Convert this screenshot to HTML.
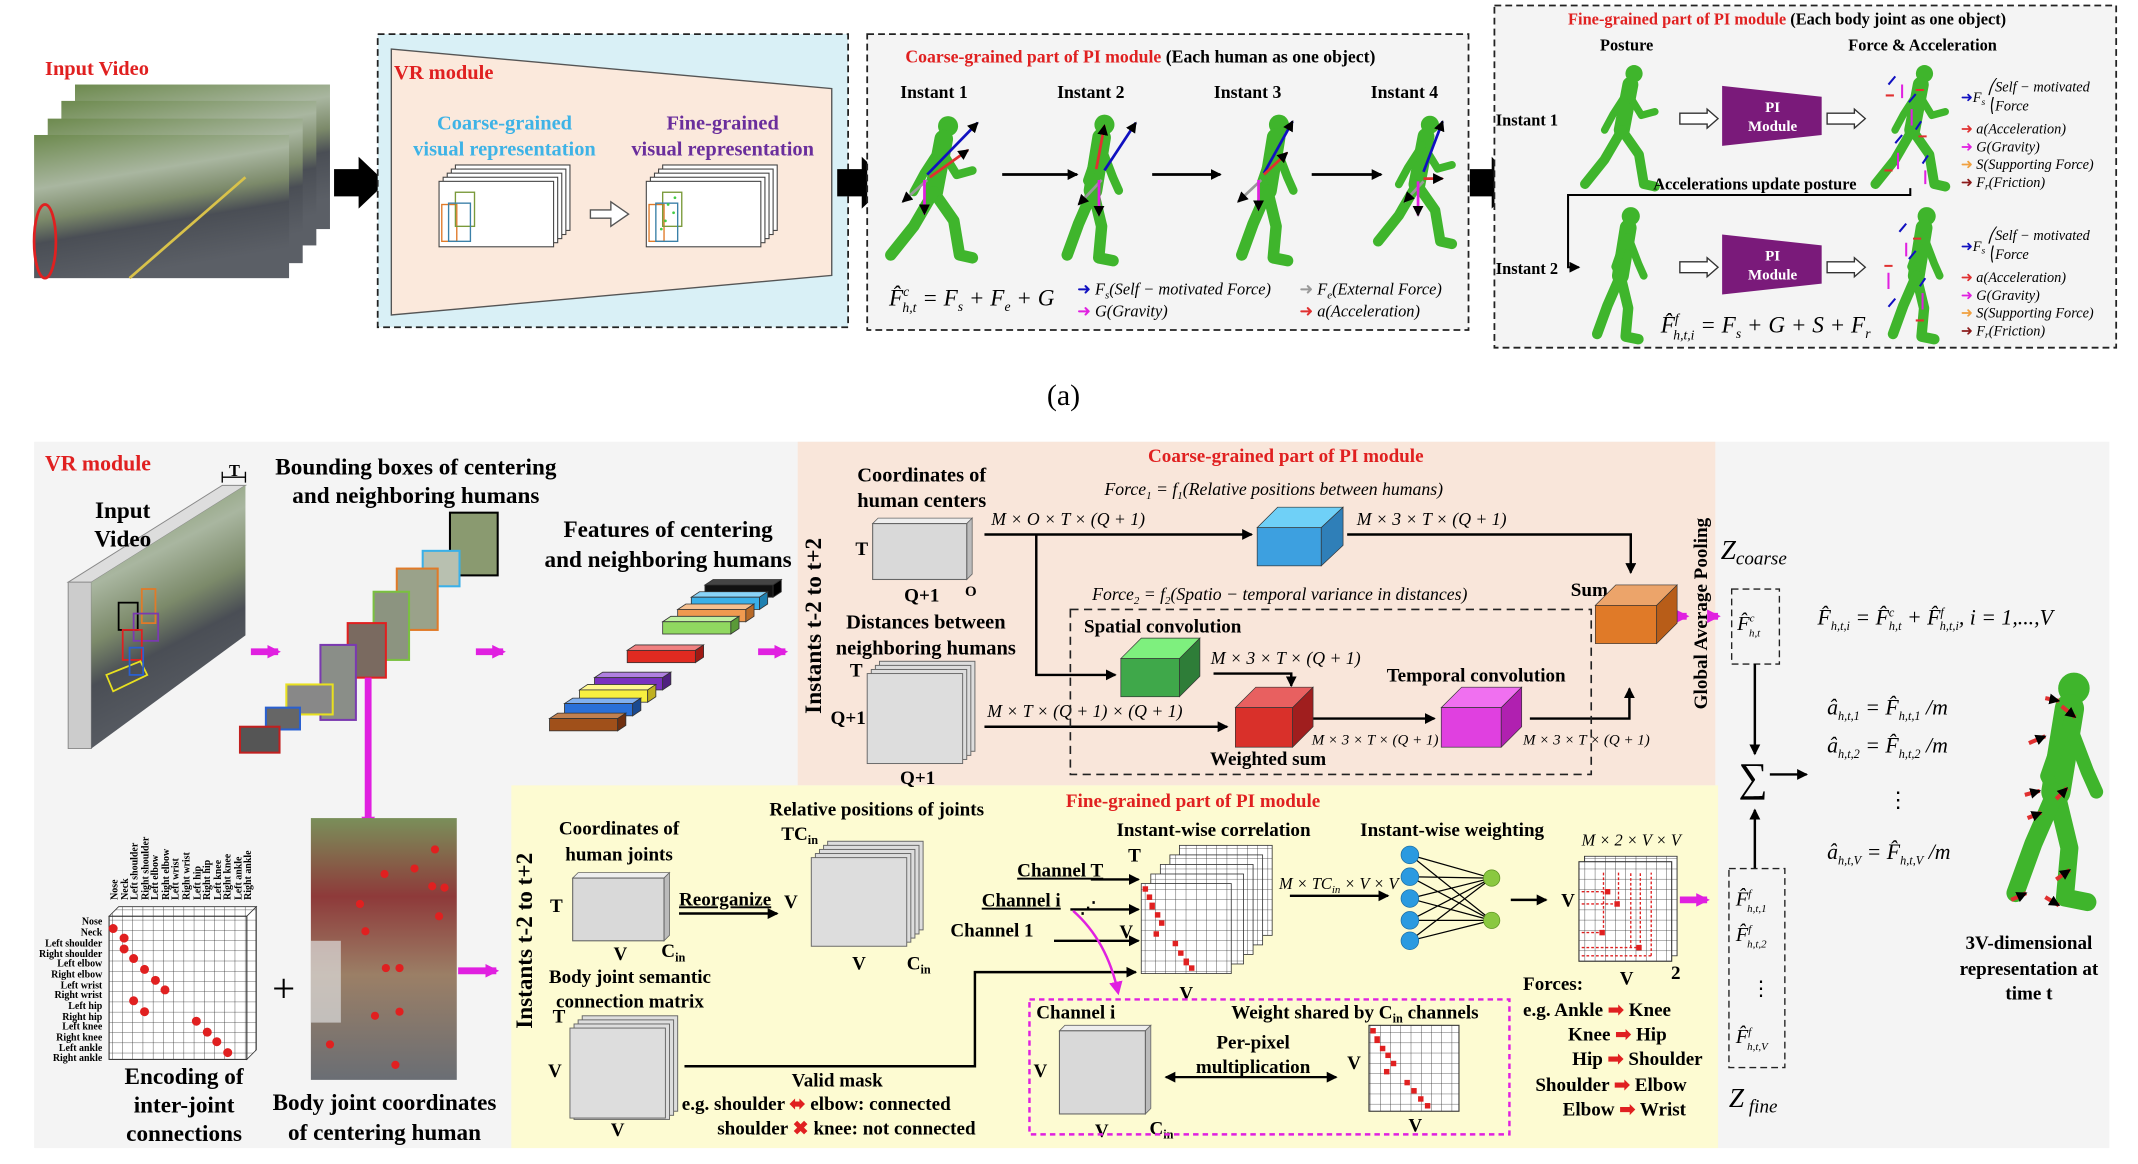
<!DOCTYPE html>
<html><head><meta charset="utf-8"><style>
html,body{margin:0;padding:0;background:#fff;}
svg{display:block;}
text{font-family:"Liberation Serif",serif;}
.b{font-weight:bold;}
.i{font-style:italic;}
</style></head><body>
<svg width="2138" height="1164" viewBox="0 0 1568 853.7" preserveAspectRatio="none" xmlns="http://www.w3.org/2000/svg">
<defs>
<pattern id="grid" width="7.5" height="7.5" patternUnits="userSpaceOnUse"><rect width="7.5" height="7.5" fill="#fff"/><path d="M7.5 0V7.5H0" fill="none" stroke="#333" stroke-width="0.6"/></pattern>
<linearGradient id="scene" x1="0" y1="0" x2="0.3" y2="1"><stop offset="0" stop-color="#6d8a4e"/><stop offset="0.35" stop-color="#a9b6a0"/><stop offset="0.55" stop-color="#7c8a6a"/><stop offset="0.7" stop-color="#4a4e55"/><stop offset="1" stop-color="#5b5f66"/></linearGradient>
<linearGradient id="photo" x1="0" y1="0" x2="0" y2="1"><stop offset="0" stop-color="#7a8f5a"/><stop offset="0.3" stop-color="#8e3a3a"/><stop offset="0.6" stop-color="#9b7f66"/><stop offset="1" stop-color="#6a6e74"/></linearGradient>
<marker id="ah" markerWidth="8" markerHeight="8" refX="7" refY="4" orient="auto" markerUnits="userSpaceOnUse"><path d="M0,0L8,4L0,8z" fill="#000"/></marker>
<marker id="ahs" markerWidth="8" markerHeight="8" refX="1" refY="4" orient="auto" markerUnits="userSpaceOnUse"><path d="M8,0L0,4L8,8z" fill="#000"/></marker>
<marker id="ahm" markerWidth="10" markerHeight="10" refX="8" refY="5" orient="auto" markerUnits="userSpaceOnUse"><path d="M0,0L10,5L0,10z" fill="#e020e0"/></marker>
<g id="run" fill="none" stroke="#3fb52c" stroke-linecap="round" stroke-linejoin="round">
<circle cx="46" cy="10" r="7" fill="#3fb52c" stroke="none"/>
<path d="M43,19L36,56" stroke-width="13"/>
<path d="M41,26L52,44L63,41" stroke-width="6"/>
<path d="M40,26L29,43L22,56" stroke-width="6"/>
<path d="M36,56L50,76L54,100L63,102" stroke-width="8"/>
<path d="M36,56L22,80L6,100" stroke-width="8"/>
</g>
<g id="stand" fill="none" stroke="#3fb52c" stroke-linecap="round" stroke-linejoin="round">
<circle cx="40" cy="9" r="7" fill="#3fb52c" stroke="none"/>
<path d="M38,18L32,55" stroke-width="13"/>
<path d="M36,25L28,48L34,60" stroke-width="6"/>
<path d="M38,25L46,46L50,55" stroke-width="6"/>
<path d="M32,55L38,80L36,102L46,104" stroke-width="8"/>
<path d="M32,55L22,78L14,100" stroke-width="8"/>
</g>
</defs>

<rect width="1568" height="854" fill="#fff"/>

<!-- ===== TOP (a) ===== -->
<text x="33" y="55" class="b" font-size="15" fill="#e02020">Input Video</text>
<rect x="55" y="62" width="187" height="106" fill="url(#scene)"/>
<rect x="45" y="74" width="187" height="106" fill="url(#scene)"/>
<rect x="35" y="87" width="187" height="106" fill="url(#scene)"/>
<rect x="25" y="99" width="187" height="105" fill="url(#scene)"/>
<path d="M95,204L180,130" stroke="#d9c24a" stroke-width="2"/>
<ellipse cx="33" cy="177" rx="8" ry="27" fill="none" stroke="#e02020" stroke-width="2"/>
<path d="M245,124H263V115L283,134L263,153V144H245Z" fill="#000"/>

<rect x="277" y="25" width="345" height="215" fill="#d9f0f6" stroke="#222" stroke-width="1.3" stroke-dasharray="5,3"/>
<polygon points="287,36 610,65 610,202 287,231" fill="#fbe9dc" stroke="#555" stroke-width="1"/>
<text x="289" y="58" class="b" font-size="15" fill="#e02020">VR module</text>
<text x="370" y="95" class="b" font-size="15" fill="#3eb3e6" text-anchor="middle">Coarse-grained</text>
<text x="370" y="114" class="b" font-size="15" fill="#3eb3e6" text-anchor="middle">visual representation</text>
<text x="530" y="95" class="b" font-size="15" fill="#6a2e9c" text-anchor="middle">Fine-grained</text>
<text x="530" y="114" class="b" font-size="15" fill="#6a2e9c" text-anchor="middle">visual representation</text>
<g fill="#fff" stroke="#444" stroke-width="0.8">
<rect x="334" y="121" width="84" height="48"/><rect x="331" y="124" width="84" height="48"/><rect x="328" y="127" width="84" height="48"/><rect x="325" y="130" width="84" height="48"/><rect x="322" y="133" width="84" height="48"/>
<rect x="486" y="121" width="84" height="48"/><rect x="483" y="124" width="84" height="48"/><rect x="480" y="127" width="84" height="48"/><rect x="477" y="130" width="84" height="48"/><rect x="474" y="133" width="84" height="48"/>
</g>
<rect x="324" y="150" width="11" height="27" fill="none" stroke="#e07a28"/>
<rect x="334" y="141" width="14" height="25" fill="none" stroke="#7a9a3a"/>
<rect x="329" y="149" width="16" height="28" fill="none" stroke="#3a80a8"/>
<rect x="476" y="150" width="11" height="27" fill="none" stroke="#e07a28"/>
<rect x="486" y="141" width="14" height="25" fill="none" stroke="#7a9a3a"/>
<rect x="481" y="149" width="16" height="28" fill="none" stroke="#3a80a8"/>
<g fill="#4c4"><circle cx="490" cy="150" r="1"/><circle cx="494" cy="156" r="1"/><circle cx="488" cy="162" r="1"/><circle cx="495" cy="145" r="1"/><circle cx="485" cy="168" r="1"/></g>
<path d="M433,154H448V148L461,157L448,166V160H433Z" fill="#fff" stroke="#555"/>
<path d="M614,124H632V115L652,134L632,153V144H614Z" fill="#000"/>

<rect x="636" y="25" width="441" height="217" fill="#f4f4f4" stroke="#222" stroke-width="1.3" stroke-dasharray="5,3"/>
<text x="664" y="46" class="b" font-size="13"><tspan fill="#e02020">Coarse-grained part of PI module</tspan><tspan fill="#000"> (Each human as one object)</tspan></text>
<g class="b" font-size="13" text-anchor="middle"><text x="685" y="72">Instant 1</text><text x="800" y="72">Instant 2</text><text x="915" y="72">Instant 3</text><text x="1030" y="72">Instant 4</text></g>
<use href="#run" transform="translate(647,82) scale(1.05)"/>
<use href="#stand" transform="translate(768,82) scale(1.05)"/>
<use href="#stand" transform="translate(896,82) scale(1.05)"/>
<use href="#run" transform="translate(1005,82) scale(0.95)"/>
<g stroke-width="2" marker-end="url(#ah)">
<line x1="680" y1="128" x2="717" y2="90" stroke="#1010c0"/><line x1="682" y1="130" x2="710" y2="110" stroke="#e03030"/><line x1="680" y1="132" x2="662" y2="148" stroke="#999"/><line x1="678" y1="132" x2="678" y2="157" stroke="#e020e0"/>
<line x1="810" y1="125" x2="833" y2="90" stroke="#1010c0"/><line x1="804" y1="124" x2="810" y2="92" stroke="#e03030"/><line x1="808" y1="132" x2="791" y2="150" stroke="#999"/><line x1="806" y1="132" x2="806" y2="158" stroke="#e020e0"/>
<line x1="927" y1="127" x2="948" y2="89" stroke="#1010c0"/><line x1="927" y1="128" x2="944" y2="112" stroke="#e03030"/><line x1="925" y1="132" x2="908" y2="148" stroke="#999"/><line x1="923" y1="132" x2="923" y2="154" stroke="#e020e0"/>
<line x1="1044" y1="126" x2="1058" y2="89" stroke="#1010c0"/><line x1="1044" y1="131" x2="1058" y2="131" stroke="#e03030"/><line x1="1044" y1="133" x2="1030" y2="148" stroke="#999"/><line x1="1040" y1="133" x2="1040" y2="158" stroke="#e020e0"/>
<line x1="735" y1="128" x2="790" y2="128" stroke="#000"/><line x1="845" y1="128" x2="895" y2="128" stroke="#000"/><line x1="962" y1="128" x2="1013" y2="128" stroke="#000"/>
</g>
<text x="652" y="224" class="i" font-size="17">F̂<tspan font-size="10" dy="-7">c</tspan><tspan font-size="10" dx="-5" dy="12">h,t</tspan><tspan dy="-5"> = F</tspan><tspan font-size="10" dy="4">s</tspan><tspan dy="-4"> + F</tspan><tspan font-size="10" dy="4">e</tspan><tspan dy="-4"> + G</tspan></text>
<g class="i" font-size="12">
<text x="790" y="216"><tspan fill="#1010c0" font-style="normal">➜</tspan> F<tspan font-size="8" dy="3">s</tspan><tspan dy="-3">(Self − motivated Force)</tspan></text>
<text x="790" y="232"><tspan fill="#e020e0" font-style="normal">➜</tspan> G(Gravity)</text>
<text x="953" y="216"><tspan fill="#999" font-style="normal">➜</tspan> F<tspan font-size="8" dy="3">e</tspan><tspan dy="-3">(External Force)</tspan></text>
<text x="953" y="232"><tspan fill="#e03030" font-style="normal">➜</tspan> a(Acceleration)</text>
</g>
<path d="M1078,124H1094V115L1112,134L1094,153V144H1078Z" fill="#000"/>

<rect x="1096" y="4" width="456" height="251" fill="#f4f4f4" stroke="#222" stroke-width="1.3" stroke-dasharray="5,3"/>
<text x="1150" y="18" class="b" font-size="12"><tspan fill="#e02020">Fine-grained part of PI module</tspan><tspan fill="#000"> (Each body joint as one object)</tspan></text>
<text x="1193" y="37" class="b" font-size="12" text-anchor="middle">Posture</text>
<text x="1410" y="37" class="b" font-size="12" text-anchor="middle">Force &amp; Acceleration</text>
<text x="1097" y="92" class="b" font-size="12">Instant 1</text>
<text x="1097" y="201" class="b" font-size="12">Instant 2</text>
<use href="#run" transform="translate(1157,45) scale(0.9)"/>
<use href="#stand" transform="translate(1158,150) scale(0.95)"/>
<use href="#run" transform="translate(1370,45) scale(0.9)"/>
<use href="#stand" transform="translate(1375,150) scale(0.95)"/>
<g fill="#fff" stroke="#333"><path d="M1232,83H1252V80L1260,87L1252,94V91H1232Z"/><path d="M1340,83H1360V80L1368,87L1360,94V91H1340Z"/><path d="M1232,192H1252V189L1260,196L1252,203V200H1232Z"/><path d="M1340,192H1360V189L1368,196L1360,203V200H1340Z"/></g>
<polygon points="1263,63 1336,71 1336,99 1263,107" fill="#7a1a7a"/>
<polygon points="1263,172 1336,180 1336,208 1263,216" fill="#7a1a7a"/>
<g fill="#fff" class="b" font-size="11" text-anchor="middle"><text x="1300" y="82">PI</text><text x="1300" y="96">Module</text><text x="1300" y="191">PI</text><text x="1300" y="205">Module</text></g>
<g stroke-width="1.5">
<path d="M1385,62l5,-6M1400,75l5,-6M1405,95l4,-6M1390,105l5,-6M1410,120l4,-6" stroke="#1010c0"/>
<path d="M1395,62v10M1402,80v12M1392,112v12M1412,125v10" stroke="#e020e0"/>
<path d="M1383,70h6M1405,66h6M1407,100h6M1382,125h6" stroke="#e03030"/>
<path d="M1393,170l5,-6M1400,190l5,-6M1408,210l4,-6M1385,225l5,-6" stroke="#1010c0"/>
<path d="M1398,178v10M1385,200v12M1410,215v12" stroke="#e020e0"/>
<path d="M1403,175h6M1382,195h6M1405,235h6" stroke="#e03030"/>
</g>
<g class="i" font-size="10.5">
<text x="1438" y="75"><tspan fill="#1010c0" font-style="normal">➜</tspan>F<tspan font-size="7" dy="2">s</tspan></text>
<text x="1458" y="67">⎛Self − motivated</text><text x="1458" y="81">⎝Force</text>
<text x="1438" y="98"><tspan fill="#e03030" font-style="normal">➜</tspan> a(Acceleration)</text>
<text x="1438" y="111"><tspan fill="#e020e0" font-style="normal">➜</tspan> G(Gravity)</text>
<text x="1438" y="124"><tspan fill="#f0a040" font-style="normal">➜</tspan> S(Supporting Force)</text>
<text x="1438" y="137"><tspan fill="#8b1a1a" font-style="normal">➜</tspan> F<tspan font-size="7" dy="2">r</tspan><tspan dy="-2">(Friction)</tspan></text>
<text x="1438" y="184"><tspan fill="#1010c0" font-style="normal">➜</tspan>F<tspan font-size="7" dy="2">s</tspan></text>
<text x="1458" y="176">⎛Self − motivated</text><text x="1458" y="190">⎝Force</text>
<text x="1438" y="207"><tspan fill="#e03030" font-style="normal">➜</tspan> a(Acceleration)</text>
<text x="1438" y="220"><tspan fill="#e020e0" font-style="normal">➜</tspan> G(Gravity)</text>
<text x="1438" y="233"><tspan fill="#f0a040" font-style="normal">➜</tspan> S(Supporting Force)</text>
<text x="1438" y="246"><tspan fill="#8b1a1a" font-style="normal">➜</tspan> F<tspan font-size="7" dy="2">r</tspan><tspan dy="-2">(Friction)</tspan></text>
</g>
<text x="1287" y="139" class="b" font-size="12" text-anchor="middle">Accelerations update posture</text>
<path d="M1401,138V143H1150V196H1158" fill="none" stroke="#000" stroke-width="1.5" marker-end="url(#ah)"/>
<text x="1218" y="244" class="i" font-size="17">F̂<tspan font-size="10" dy="-7">f</tspan><tspan font-size="10" dx="-4" dy="12">h,t,i</tspan><tspan dy="-5"> = F</tspan><tspan font-size="10" dy="4">s</tspan><tspan dy="-4"> + G + S + F</tspan><tspan font-size="10" dy="4">r</tspan></text>
<text x="780" y="297" font-size="22" text-anchor="middle">(a)</text>

<!-- ===== BOTTOM ===== -->
<rect x="25" y="324" width="1522" height="518" fill="#f4f4f4"/>
<rect x="585" y="324" width="673" height="252" fill="#f9e6da"/>
<rect x="375" y="576" width="885" height="266" fill="#fdfbd2"/>
<text x="33" y="345" class="b" font-size="16" fill="#e02020">VR module</text>

<polygon points="50,427 163,356 180,356 67,427" fill="#ddd" stroke="#888" stroke-width="0.7"/>
<polygon points="50,427 67,427 67,549 50,549" fill="#ccc" stroke="#888" stroke-width="0.7"/>
<polygon points="67,427 180,356 180,466 67,549" fill="url(#scene)"/>
<g fill="none" stroke-width="1.3"><rect x="87" y="442" width="14" height="20" stroke="#000"/><rect x="104" y="432" width="10" height="25" stroke="#e07a28"/><rect x="98" y="450" width="18" height="20" stroke="#7a3ab0"/><rect x="90" y="462" width="14" height="22" stroke="#e02020"/><path d="M78,495l25,-10l5,10l-25,12z" stroke="#e8e020"/><rect x="95" y="475" width="10" height="20" stroke="#2a60d0"/></g>
<path d="M163,350H180M163,346v8M180,346v8" stroke="#000"/>
<text x="172" y="349" class="b" font-size="12" text-anchor="middle">T</text>
<text x="90" y="380" class="b" font-size="17" text-anchor="middle">Input</text>
<text x="90" y="401" class="b" font-size="17" text-anchor="middle">Video</text>
<text x="305" y="348" class="b" font-size="17" text-anchor="middle">Bounding boxes of centering</text>
<text x="305" y="369" class="b" font-size="17" text-anchor="middle">and neighboring humans</text>
<g stroke-width="1.5">
<rect x="330" y="376" width="35" height="46" fill="#8a9a70" stroke="#000"/>
<rect x="310" y="404" width="27" height="26" fill="#b8c0b0" stroke="#3ab0e8"/>
<rect x="291" y="417" width="30" height="45" fill="#9aa28a" stroke="#e07a28"/>
<rect x="274" y="434" width="26" height="50" fill="#8c9480" stroke="#7ac040"/>
<rect x="255" y="457" width="28" height="40" fill="#7a6a60" stroke="#e02020"/>
<rect x="235" y="473" width="26" height="55" fill="#8a8e88" stroke="#7a3ab0"/>
<rect x="210" y="502" width="34" height="22" fill="#888" stroke="#e8e020"/>
<rect x="195" y="519" width="25" height="16" fill="#666" stroke="#2a60d0"/>
<rect x="176" y="533" width="29" height="19" fill="#555" stroke="#c02020"/>
</g>
<g stroke="#e020e0" stroke-width="5" marker-end="url(#ahm)"><line x1="184" y1="478" x2="204" y2="478"/><line x1="349" y1="478" x2="369" y2="478"/><line x1="556" y1="478" x2="576" y2="478"/><line x1="270" y1="497" x2="270" y2="607"/><line x1="336" y1="712" x2="364" y2="712"/><line x1="1230" y1="452" x2="1237" y2="452"/><line x1="1253" y1="452" x2="1260" y2="452"/><line x1="1232" y1="660" x2="1252" y2="660"/></g>
<text x="490" y="394" class="b" font-size="17" text-anchor="middle">Features of centering</text>
<text x="490" y="416" class="b" font-size="17" text-anchor="middle">and neighboring humans</text>
<g stroke="#333" stroke-width="0.6">
<g transform="translate(517,425)"><polygon points="0,4 6,0 56,0 50,4" fill="#444"/><rect y="4" width="50" height="9" fill="#111"/><polygon points="50,4 56,0 56,9 50,13" fill="#000"/></g>
<g transform="translate(507,434)"><polygon points="0,4 6,0 56,0 50,4" fill="#8ad4f8"/><rect y="4" width="50" height="9" fill="#3ab0e8"/><polygon points="50,4 56,0 56,9 50,13" fill="#1f80b0"/></g>
<g transform="translate(497,443)"><polygon points="0,4 6,0 56,0 50,4" fill="#f6c090"/><rect y="4" width="50" height="9" fill="#f09a50"/><polygon points="50,4 56,0 56,9 50,13" fill="#b86a28"/></g>
<g transform="translate(486,452)"><polygon points="0,4 6,0 56,0 50,4" fill="#c0f0a0"/><rect y="4" width="50" height="9" fill="#90d860"/><polygon points="50,4 56,0 56,9 50,13" fill="#5a9a38"/></g>
<g transform="translate(460,473)"><polygon points="0,4 6,0 56,0 50,4" fill="#f08080"/><rect y="4" width="50" height="9" fill="#e02a20"/><polygon points="50,4 56,0 56,9 50,13" fill="#a01a14"/></g>
<g transform="translate(436,493)"><polygon points="0,4 6,0 56,0 50,4" fill="#b080e0"/><rect y="4" width="50" height="9" fill="#7a30c0"/><polygon points="50,4 56,0 56,9 50,13" fill="#502080"/></g>
<g transform="translate(425,502)"><polygon points="0,4 6,0 56,0 50,4" fill="#fff890"/><rect y="4" width="50" height="9" fill="#f8f040"/><polygon points="50,4 56,0 56,9 50,13" fill="#c0b020"/></g>
<g transform="translate(414,512)"><polygon points="0,4 6,0 56,0 50,4" fill="#80b0f0"/><rect y="4" width="50" height="9" fill="#2a70d8"/><polygon points="50,4 56,0 56,9 50,13" fill="#1a4a90"/></g>
<g transform="translate(403,523)"><polygon points="0,4 6,0 56,0 50,4" fill="#c08050"/><rect y="4" width="50" height="9" fill="#a0501a"/><polygon points="50,4 56,0 56,9 50,13" fill="#703010"/></g>
</g>

<!-- coarse PI -->
<text x="602" y="459" class="b" font-size="17" text-anchor="middle" transform="rotate(-90 602 459)">Instants t-2 to t+2</text>
<text x="943" y="339" class="b" font-size="14" fill="#e02020" text-anchor="middle">Coarse-grained part of PI module</text>
<text x="676" y="353" class="b" font-size="15" text-anchor="middle">Coordinates of</text>
<text x="676" y="372" class="b" font-size="15" text-anchor="middle">human centers</text>
<polygon points="640,384 644,380 713,380 709,384" fill="#eee" stroke="#666" stroke-width="0.6"/>
<polygon points="709,384 713,380 713,421 709,425" fill="#bbb" stroke="#666" stroke-width="0.6"/>
<rect x="640" y="384" width="69" height="41" fill="#d9d9d9" stroke="#666" stroke-width="0.8"/>
<text x="632" y="407" class="b" font-size="14" text-anchor="middle">T</text>
<text x="676" y="441" class="b" font-size="14" text-anchor="middle">Q+1</text>
<text x="712" y="437" class="b" font-size="11" text-anchor="middle">O</text>
<text x="679" y="461" class="b" font-size="15" text-anchor="middle">Distances between</text>
<text x="679" y="480" class="b" font-size="15" text-anchor="middle">neighboring humans</text>
<g fill="#ddd" stroke="#666" stroke-width="0.7"><rect x="645" y="485" width="70" height="66"/><rect x="642" y="488" width="70" height="66"/><rect x="639" y="491" width="70" height="66"/><rect x="636" y="494" width="70" height="66"/></g>
<text x="628" y="496" class="b" font-size="14" text-anchor="middle">T</text>
<text x="622" y="531" class="b" font-size="14" text-anchor="middle">Q+1</text>
<text x="673" y="575" class="b" font-size="14" text-anchor="middle">Q+1</text>

<text x="810" y="363" class="i" font-size="13">Force<tspan font-size="8" dy="3">1</tspan><tspan dy="-3"> = f</tspan><tspan font-size="8" dy="3">1</tspan><tspan dy="-3">(Relative positions between humans)</tspan></text>
<text x="801" y="440" class="i" font-size="13">Force<tspan font-size="8" dy="3">2</tspan><tspan dy="-3"> = f</tspan><tspan font-size="8" dy="3">2</tspan><tspan dy="-3">(Spatio − temporal variance in distances)</tspan></text>
<g class="i" font-size="13">
<text x="727" y="385">M × O × T × (Q + 1)</text>
<text x="995" y="385">M × 3 × T × (Q + 1)</text>
<text x="888" y="487">M × 3 × T × (Q + 1)</text>
<text x="724" y="526">M × T × (Q + 1) × (Q + 1)</text>
<text x="962" y="546" font-size="11">M × 3 × T × (Q + 1)</text>
<text x="1117" y="546" font-size="11">M × 3 × T × (Q + 1)</text>
</g>
<g fill="none" stroke="#000" stroke-width="1.8" marker-end="url(#ah)">
<path d="M722,392H918"/><path d="M988,392H1196V420"/><path d="M760,392V495H818"/><path d="M890,494H947V503"/><path d="M722,533H900"/><path d="M963,527H1052"/><path d="M1122,527H1195V505"/>
</g>
<rect x="785" y="447" width="382" height="121" fill="none" stroke="#222" stroke-width="1.2" stroke-dasharray="6,4"/>
<text x="795" y="464" class="b" font-size="14">Spatial convolution</text>
<text x="1017" y="500" class="b" font-size="14">Temporal convolution</text>
<text x="930" y="561" class="b" font-size="14" text-anchor="middle">Weighted sum</text>
<text x="1152" y="437" class="b" font-size="14">Sum</text>
<g stroke="#333" stroke-width="0.5">
<polygon points="922,387 937,372 985,372 969,387" fill="#6fd0f7"/><rect x="922" y="387" width="47" height="28" fill="#3da0e0"/><polygon points="969,387 985,372 985,400 969,415" fill="#2f7fb8"/>
<polygon points="822,483 837,468 880,468 865,483" fill="#7ef07e"/><rect x="822" y="483" width="43" height="28" fill="#3fa84a"/><polygon points="865,483 880,468 880,496 865,511" fill="#2e7d38"/>
<polygon points="906,519 921,504 963,504 948,519" fill="#e86060"/><rect x="906" y="519" width="42" height="29" fill="#d9302a"/><polygon points="948,519 963,504 963,533 948,548" fill="#a01e1e"/>
<polygon points="1057,519 1072,504 1116,504 1101,519" fill="#f070f0"/><rect x="1057" y="519" width="44" height="29" fill="#e040e0"/><polygon points="1101,519 1116,504 1116,533 1101,548" fill="#b020b0"/>
<polygon points="1170,444 1185,429 1230,429 1215,444" fill="#eca46a"/><rect x="1170" y="444" width="45" height="28" fill="#e07a28"/><polygon points="1215,444 1230,429 1230,457 1215,472" fill="#b85d18"/>
</g>
<text x="1252" y="450" class="b" font-size="14" text-anchor="middle" transform="rotate(-90 1252 450)">Global Average Pooling</text>
<text x="1262" y="410" class="i" font-size="20">Z<tspan font-size="14" dy="4">coarse</tspan></text>
<rect x="1270" y="432" width="35" height="55" fill="none" stroke="#222" stroke-dasharray="5,3"/>
<text x="1274" y="462" class="i" font-size="15">F̂<tspan font-size="8" dy="-6">c</tspan><tspan font-size="8" dx="-4" dy="11">h,t</tspan></text>
<g stroke="#000" stroke-width="1.8" marker-end="url(#ah)"><line x1="1287" y1="487" x2="1287" y2="553"/><line x1="1298" y1="568" x2="1325" y2="568"/><line x1="1287" y1="637" x2="1287" y2="594"/></g>
<text x="1275" y="580" font-size="30">∑</text>
<rect x="1268" y="637" width="41" height="146" fill="none" stroke="#222" stroke-dasharray="5,3"/>
<g class="i" font-size="15"><text x="1273" y="664">F̂<tspan font-size="8" dy="-6">f</tspan><tspan font-size="8" dx="-3" dy="11">h,t,1</tspan></text><text x="1273" y="690">F̂<tspan font-size="8" dy="-6">f</tspan><tspan font-size="8" dx="-3" dy="11">h,t,2</tspan></text><text x="1284" y="730" font-style="normal">⋮</text><text x="1273" y="765">F̂<tspan font-size="8" dy="-6">f</tspan><tspan font-size="8" dx="-3" dy="11">h,t,V</tspan></text></g>
<text x="1268" y="812" class="i" font-size="20">Z<tspan font-size="14" dy="4"> fine</tspan></text>
<g class="i" font-size="16">
<text x="1333" y="458">F̂<tspan font-size="9" dy="4">h,t,i</tspan><tspan dy="-4"> = F̂</tspan><tspan font-size="9" dy="-6">c</tspan><tspan font-size="9" dx="-4" dy="10">h,t</tspan><tspan dy="-4"> + F̂</tspan><tspan font-size="9" dy="-6">f</tspan><tspan font-size="9" dx="-3" dy="10">h,t,i</tspan><tspan dy="-4">,  i = 1,...,V</tspan></text>
<text x="1340" y="524">â<tspan font-size="9" dy="4">h,t,1</tspan><tspan dy="-4"> = F̂</tspan><tspan font-size="9" dy="4">h,t,1</tspan><tspan dy="-4"> /m</tspan></text>
<text x="1340" y="552">â<tspan font-size="9" dy="4">h,t,2</tspan><tspan dy="-4"> = F̂</tspan><tspan font-size="9" dy="4">h,t,2</tspan><tspan dy="-4"> /m</tspan></text>
<text x="1384" y="592" font-style="normal">⋮</text>
<text x="1340" y="630">â<tspan font-size="9" dy="4">h,t,V</tspan><tspan dy="-4"> = F̂</tspan><tspan font-size="9" dy="4">h,t,V</tspan><tspan dy="-4"> /m</tspan></text>
</g>
<use href="#stand" transform="translate(1455,490) scale(1.65)"/>
<g stroke="#e03030" stroke-width="3" marker-end="url(#ah)"><line x1="1500" y1="512" x2="1510" y2="514"/><line x1="1512" y1="518" x2="1522" y2="526"/><line x1="1488" y1="545" x2="1500" y2="540"/><line x1="1485" y1="583" x2="1496" y2="580"/><line x1="1508" y1="586" x2="1516" y2="578"/><line x1="1487" y1="600" x2="1497" y2="596"/><line x1="1508" y1="645" x2="1518" y2="638"/><line x1="1475" y1="660" x2="1486" y2="655"/><line x1="1500" y1="658" x2="1510" y2="664"/></g>
<g class="b" font-size="14" text-anchor="middle"><text x="1488" y="696">3V-dimensional</text><text x="1488" y="715">representation at</text><text x="1488" y="733">time t</text></g>

<!-- bottom left matrix -->
<g class="b" font-size="7.3">
<g text-anchor="start">
<text transform="translate(86,660) rotate(-90)">Nose</text><text transform="translate(94,660) rotate(-90)">Neck</text><text transform="translate(101,660) rotate(-90)">Left shoulder</text><text transform="translate(109,660) rotate(-90)">Right shoulder</text><text transform="translate(116,660) rotate(-90)">Left elbow</text><text transform="translate(124,660) rotate(-90)">Right elbow</text><text transform="translate(131,660) rotate(-90)">Left wrist</text><text transform="translate(139,660) rotate(-90)">Right wrist</text><text transform="translate(147,660) rotate(-90)">Left hip</text><text transform="translate(154,660) rotate(-90)">Right hip</text><text transform="translate(162,660) rotate(-90)">Left knee</text><text transform="translate(169,660) rotate(-90)">Right knee</text><text transform="translate(177,660) rotate(-90)">Left ankle</text><text transform="translate(184,660) rotate(-90)">Right ankle</text>
</g>
<g text-anchor="end"><text x="75" y="678">Nose</text><text x="75" y="686">Neck</text><text x="75" y="694">Left shoulder</text><text x="75" y="702">Right shoulder</text><text x="75" y="709">Left elbow</text><text x="75" y="717">Right elbow</text><text x="75" y="725">Left wrist</text><text x="75" y="732">Right wrist</text><text x="75" y="740">Left hip</text><text x="75" y="748">Right hip</text><text x="75" y="755">Left knee</text><text x="75" y="763">Right knee</text><text x="75" y="771">Left ankle</text><text x="75" y="778">Right ankle</text></g>
</g>
<polygon points="80,672 87,665 188,665 181,672" fill="url(#grid)" stroke="#333" stroke-width="0.6"/>
<polygon points="181,672 188,665 188,770 181,777" fill="url(#grid)" stroke="#333" stroke-width="0.6"/>
<rect x="80" y="672" width="101" height="105" fill="url(#grid)" stroke="#333" stroke-width="0.8"/>
<g fill="#e02020"><circle cx="83" cy="681" r="3.3"/><circle cx="91" cy="688" r="3.3"/><circle cx="91" cy="696" r="3.3"/><circle cx="98" cy="703" r="3.3"/><circle cx="106" cy="711" r="3.3"/><circle cx="114" cy="719" r="3.3"/><circle cx="121" cy="726" r="3.3"/><circle cx="98" cy="734" r="3.3"/><circle cx="106" cy="742" r="3.3"/><circle cx="144" cy="749" r="3.3"/><circle cx="152" cy="757" r="3.3"/><circle cx="159" cy="764" r="3.3"/><circle cx="167" cy="772" r="3.3"/></g>
<text x="208" y="735" font-size="30" text-anchor="middle">+</text>
<g class="b" font-size="17" text-anchor="middle"><text x="135" y="795">Encoding of</text><text x="135" y="816">inter-joint</text><text x="135" y="837">connections</text><text x="282" y="814">Body joint coordinates</text><text x="282" y="836">of centering human</text></g>
<rect x="228" y="600" width="107" height="192" fill="url(#photo)"/>
<rect x="228" y="690" width="22" height="60" fill="#ddd" opacity="0.7"/>
<g fill="#e02020"><circle cx="319" cy="623" r="3"/><circle cx="304" cy="637" r="3"/><circle cx="282" cy="641" r="3"/><circle cx="317" cy="650" r="3"/><circle cx="326" cy="651" r="3"/><circle cx="264" cy="663" r="3"/><circle cx="322" cy="672" r="3"/><circle cx="268" cy="683" r="3"/><circle cx="283" cy="710" r="3"/><circle cx="293" cy="710" r="3"/><circle cx="293" cy="742" r="3"/><circle cx="275" cy="745" r="3"/><circle cx="242" cy="766" r="3"/><circle cx="290" cy="781" r="3"/></g>

<!-- fine PI -->
<text x="390" y="690" class="b" font-size="17" text-anchor="middle" transform="rotate(-90 390 690)">Instants t-2 to t+2</text>
<text x="875" y="592" class="b" font-size="14" fill="#e02020" text-anchor="middle">Fine-grained part of PI module</text>
<g class="b" font-size="14" text-anchor="middle"><text x="454" y="612">Coordinates of</text><text x="454" y="631">human joints</text><text x="643" y="598">Relative positions of joints</text><text x="890" y="613">Instant-wise correlation</text><text x="1065" y="613">Instant-wise weighting</text><text x="462" y="721">Body joint semantic</text><text x="462" y="739">connection matrix</text><text x="614" y="797">Valid mask</text><text x="919" y="769">Per-pixel</text><text x="919" y="787">multiplication</text></g>
<polygon points="420,644 424,640 491,640 487,644" fill="#eee" stroke="#666" stroke-width="0.6"/>
<polygon points="487,644 491,640 491,686 487,690" fill="#bbb" stroke="#666" stroke-width="0.6"/>
<rect x="420" y="644" width="67" height="46" fill="#d9d9d9" stroke="#666" stroke-width="0.8"/>
<g class="b" font-size="14" text-anchor="middle"><text x="408" y="669">T</text><text x="455" y="704">V</text><text x="580" y="666">V</text><text x="630" y="711">V</text><text x="410" y="750">T</text><text x="407" y="790">V</text><text x="453" y="833">V</text><text x="832" y="632">T</text><text x="826" y="688">V</text><text x="870" y="733">V</text><text x="1150" y="665">V</text><text x="1193" y="722">V</text><text x="1229" y="718">2</text><text x="763" y="790">V</text><text x="808" y="834">V</text><text x="993" y="784">V</text><text x="1038" y="830">V</text></g>
<g class="b" font-size="14"><text x="485" y="702">C<tspan font-size="9" dy="3">in</tspan></text><text x="665" y="711">C<tspan font-size="9" dy="3">in</tspan></text><text x="573" y="616">TC<tspan font-size="9" dy="3">in</tspan></text><text x="843" y="832">C<tspan font-size="9" dy="3">in</tspan></text><text x="903" y="747">Weight shared by C<tspan font-size="9" dy="3">in</tspan><tspan dy="-3"> channels</tspan></text></g>
<text x="498" y="664" class="b" font-size="14" text-decoration="underline">Reorganize</text>
<g fill="#ddd" stroke="#666" stroke-width="0.7"><rect x="607" y="617" width="70" height="65"/><rect x="604" y="620" width="70" height="65"/><rect x="601" y="623" width="70" height="65"/><rect x="598" y="626" width="70" height="65"/><rect x="595" y="629" width="70" height="65"/></g>
<g fill="#ddd" stroke="#666" stroke-width="0.7"><rect x="427" y="745" width="70" height="70"/><rect x="424" y="748" width="70" height="70"/><rect x="421" y="751" width="70" height="70"/><rect x="418" y="754" width="70" height="66"/></g>
<g class="b" font-size="14"><text x="746" y="643" text-decoration="underline">Channel T</text><text x="720" y="665" text-decoration="underline">Channel i</text><text x="697" y="687">Channel 1</text><text x="760" y="747">Channel i</text><text x="1117" y="726">Forces:</text></g>
<text x="792" y="670" font-size="12" class="b">⋰</text>
<g fill="none" stroke="#000" stroke-width="1.8" marker-end="url(#ah)"><path d="M498,670H570"/><path d="M800,645H835"/><path d="M785,667H835"/><path d="M773,690H835"/><path d="M502,782H715V713H833"/><path d="M946,657H1018"/><path d="M1108,660H1134"/></g>
<line x1="855" y1="790" x2="980" y2="790" stroke="#000" stroke-width="1.6" marker-end="url(#ah)" marker-start="url(#ahs)"/>
<path d="M787,668Q812,690 820,728" fill="none" stroke="#e020e0" stroke-width="1.8" marker-end="url(#ahm)"/>
<g stroke="#333" stroke-width="0.6"><rect x="865" y="620" width="68" height="66" fill="url(#grid)"/><rect x="858" y="627" width="68" height="66" fill="url(#grid)"/><rect x="851" y="634" width="68" height="66" fill="url(#grid)"/><rect x="844" y="641" width="68" height="66" fill="url(#grid)"/><rect x="837" y="648" width="66" height="66" fill="url(#grid)"/></g>
<g fill="#e02020"><rect x="838" y="650" width="4" height="4"/><rect x="841" y="656" width="4" height="4"/><rect x="843" y="662" width="4" height="5"/><rect x="847" y="669" width="4" height="4"/><rect x="850" y="675" width="4" height="4"/><rect x="846" y="683" width="4" height="4"/><rect x="860" y="690" width="4" height="4"/><rect x="864" y="697" width="4" height="4"/><rect x="868" y="703" width="4" height="5"/><rect x="872" y="708" width="4" height="4"/></g>
<text x="938" y="652" class="i" font-size="12">M × TC<tspan font-size="8" dy="3">in</tspan><tspan dy="-3"> × V × V</tspan></text>
<g stroke="#000" stroke-width="0.9"><path d="M1034,627L1094,644M1034,627L1094,675M1034,643L1094,644M1034,643L1094,675M1034,659L1094,644M1034,659L1094,675M1034,675L1094,644M1034,675L1094,675M1034,690L1094,644M1034,690L1094,675"/></g>
<g fill="#2a9ae0" stroke="#1a6aa0" stroke-width="0.5"><circle cx="1034" cy="627" r="6.5"/><circle cx="1034" cy="643" r="6.5"/><circle cx="1034" cy="659" r="6.5"/><circle cx="1034" cy="675" r="6.5"/><circle cx="1034" cy="690" r="6.5"/></g>
<g fill="#8ac840" stroke="#5a9020" stroke-width="0.5"><circle cx="1094" cy="644" r="6"/><circle cx="1094" cy="675" r="6"/></g>
<text x="1160" y="620" class="i" font-size="12">M × 2 × V × V</text>
<rect x="1162" y="628" width="68" height="73" fill="url(#grid)" stroke="#333" stroke-width="0.6"/>
<rect x="1158" y="632" width="68" height="73" fill="url(#grid)" stroke="#333" stroke-width="0.8"/>
<g stroke="#e02020" stroke-width="1" stroke-dasharray="2,1.5" fill="none"><path d="M1160,654H1180M1160,663H1187M1160,684H1176M1160,695H1203M1160,701H1211M1176,684V640M1187,663V640M1196,695V640M1203,695V640M1211,701V640"/></g>
<g fill="#e02020"><rect x="1177" y="652" width="4" height="4"/><rect x="1184" y="661" width="4" height="4"/><rect x="1173" y="682" width="4" height="4"/><rect x="1200" y="693" width="4" height="4"/></g>
<g class="b" font-size="14"><text x="1117" y="745">e.g. Ankle <tspan fill="#e02020">➡</tspan> Knee</text><text x="1150" y="763">Knee <tspan fill="#e02020">➡</tspan> Hip</text><text x="1153" y="781">Hip <tspan fill="#e02020">➡</tspan> Shoulder</text><text x="1126" y="800">Shoulder <tspan fill="#e02020">➡</tspan> Elbow</text><text x="1146" y="818">Elbow <tspan fill="#e02020">➡</tspan> Wrist</text></g>
<g class="b" font-size="14"><text x="500" y="814">e.g. shoulder <tspan fill="#e02020">⬌</tspan> elbow: connected</text><text x="526" y="832">shoulder <tspan fill="#e02020">✖</tspan> knee: not connected</text></g>
<rect x="755" y="733" width="352" height="99" fill="none" stroke="#e020e0" stroke-width="1.8" stroke-dasharray="4,3"/>
<polygon points="777,756 781,752 844,752 840,756" fill="#eee" stroke="#666" stroke-width="0.6"/>
<polygon points="840,756 844,752 844,813 840,817" fill="#bbb" stroke="#666" stroke-width="0.6"/>
<rect x="777" y="756" width="63" height="61" fill="#d9d9d9" stroke="#666" stroke-width="0.8"/>
<rect x="1004" y="752" width="66" height="63" fill="url(#grid)" stroke="#333" stroke-width="0.8"/>
<g fill="#e02020"><rect x="1005" y="754" width="4" height="4"/><rect x="1008" y="760" width="4" height="5"/><rect x="1012" y="767" width="4" height="4"/><rect x="1016" y="772" width="4" height="4"/><rect x="1020" y="778" width="4" height="4"/><rect x="1015" y="784" width="4" height="4"/><rect x="1030" y="792" width="4" height="4"/><rect x="1035" y="798" width="4" height="4"/><rect x="1040" y="804" width="4" height="4"/><rect x="1045" y="809" width="4" height="4"/></g>
</svg>
</body></html>
